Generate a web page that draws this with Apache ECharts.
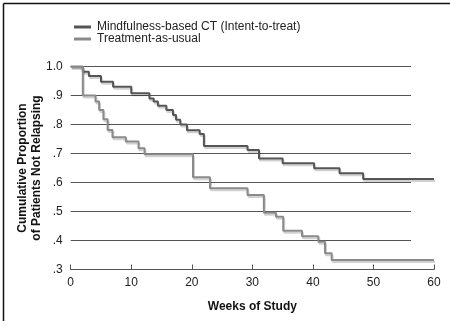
<!DOCTYPE html>
<html>
<head>
<meta charset="utf-8">
<script src="https://cdn.jsdelivr.net/npm/echarts@6/dist/echarts.min.js"></script>
<style>
  html, body { margin: 0; padding: 0; background: #fff; }
  #chart { width: 450px; height: 321px; }
</style>
</head>
<body>
<div id="chart"></div>
<script>
// Kaplan-Meier steps (week of event, proportion after it)
var mbctWeeks = [0, 2, 3, 5, 7, 10, 13, 13.7, 14.4, 15.8, 16.9, 17.4, 18.1, 19.2, 21.3, 22, 29.2, 31.1, 35, 40.2, 44.4, 48.3, 60];
var mbctValues = [1.0, .982, .967, .947, .930, .908, .89, .879, .865, .85, .833, .816, .80, .78, .767, .726, .712, .683, .666, .649, .632, .612, .612];

var tauWeeks = [0, 2, 4.1, 4.7, 5.4, 6.1, 6.9, 9.1, 11.2, 12.2, 20.2, 23, 29.2, 31.9, 33.9, 35.1, 38.2, 40.9, 42, 43.1, 60];
var tauValues = [1.0, .90, .879, .85, .818, .781, .756, .741, .718, .697, .618, .58, .557, .496, .482, .434, .415, .396, .356, .333, .333];

var seriesNames = ['Mindfulness-based CT (Intent-to-treat)', 'Treatment-as-usual'];
var yTitle = 'Cumulative Proportion\nof Patients Not Relapsing';
var gridValues = [0.4, 0.5, 0.6, 0.7, 0.8, 0.9, 1.0];
var gridEndWeek = 56.2;
var xTicks = [0, 10, 20, 30, 40, 50, 60];

var zip = function (xs, ys) { return xs.map(function (x, i) { return [x, ys[i]]; }); };

var font = 'Liberation Sans, Arial, Helvetica, sans-serif';

var stepLine = function (name, data, color) {
    return {
        name: name,
        type: 'line',
        step: 'end',
        symbol: 'none',
        z: 3,
        data: data,
        lineStyle: {
            color: color, width: 2,
            shadowColor: 'rgba(0,0,0,0.18)', shadowOffsetX: 1, shadowOffsetY: 2, shadowBlur: 0
        },
        itemStyle: { color: color }
    };
};

var gridSeries = gridValues.map(function (v) {
    return {
        type: 'line', symbol: 'none', silent: true, z: 1,
        data: [[0, v], [gridEndWeek, v]],
        lineStyle: { color: '#555', width: 1 }
    };
});

var chart = echarts.init(document.getElementById('chart'));
chart.setOption({
    animation: false,
    textStyle: { fontFamily: font },
    grid: { left: 70.7, right: 16, top: 66.5, bottom: 51.5, containLabel: false, outerBoundsMode: 'none' },
    legend: {
        data: seriesNames,
        orient: 'vertical',
        left: 69, top: 16,
        icon: 'rect',
        itemWidth: 17, itemHeight: 3, itemGap: 0,
        textStyle: { fontSize: 12, color: '#222', fontFamily: font, padding: [0, 0, 0, 1] }
    },
    xAxis: {
        type: 'value', min: xTicks[0], max: xTicks[xTicks.length - 1], interval: 10,
        name: 'Weeks of Study', nameLocation: 'middle', nameGap: 31,
        nameTextStyle: { fontWeight: 'bold', fontSize: 12, color: '#111' },
        axisLine: { lineStyle: { color: '#555', width: 1 } },
        axisTick: { inside: true, length: 5, lineStyle: { color: '#555' } },
        axisLabel: { fontSize: 12, color: '#222', margin: 7 },
        splitLine: { show: false }
    },
    yAxis: {
        type: 'value', min: 0.3, max: 1.0, interval: 0.1,
        axisLine: { show: false },
        axisTick: { show: false },
        axisLabel: {
            fontSize: 12, color: '#222', margin: 8,
            formatter: function (v) { return v >= 0.999 ? '1.0' : v.toFixed(1).replace('0.', '.'); }
        },
        splitLine: { show: false }
    },
    graphic: [
        { type: 'line', shape: { x1: 3.5, y1: 3.5, x2: 450, y2: 3.5 }, style: { stroke: '#111', lineWidth: 1.5 } },
        { type: 'line', shape: { x1: 3.5, y1: 3.5, x2: 3.5, y2: 321 }, style: { stroke: '#111', lineWidth: 1.5 } },
        {
            type: 'text', x: 30, y: 168, rotation: Math.PI / 2,
            style: {
                text: yTitle, fill: '#111', font: 'bold 12px ' + font, lineHeight: 14,
                align: 'center', verticalAlign: 'middle'
            }
        }
    ],
    series: gridSeries.concat([
        stepLine(seriesNames[0], zip(mbctWeeks, mbctValues), '#555'),
        stepLine(seriesNames[1], zip(tauWeeks, tauValues), '#8a8a8a')
    ])
});
</script>
</body>
</html>
